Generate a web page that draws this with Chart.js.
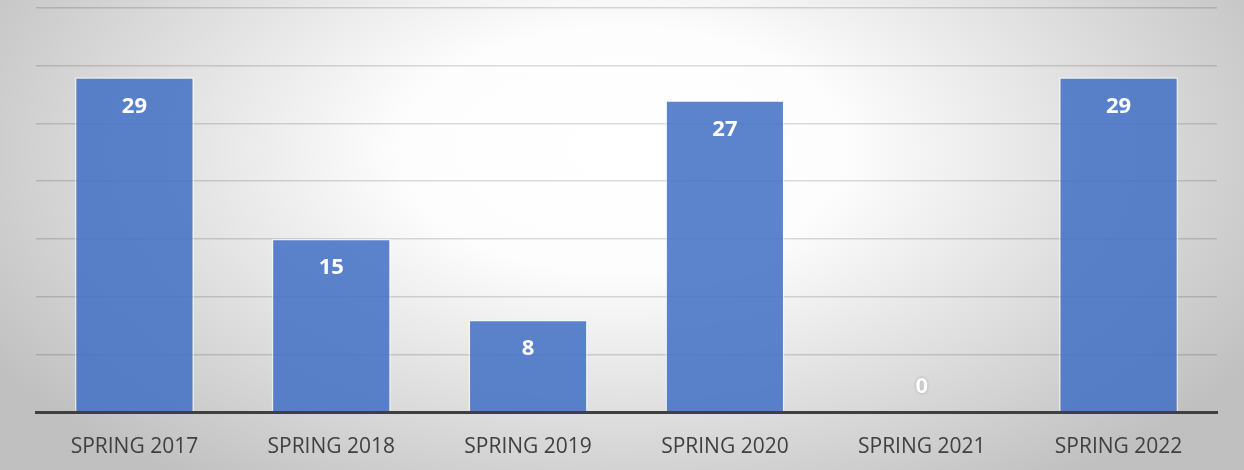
<!DOCTYPE html>
<html>
<head>
<meta charset="utf-8">
<script src="https://cdn.jsdelivr.net/npm/chart.js@4.4.1/dist/chart.umd.min.js"></script>
<style>
  html, body { margin: 0; padding: 0; background: #fff; }
  #box { width: 1244px; height: 470px; }
</style>
</head>
<body>
<div id="box"><canvas id="myChart"></canvas></div>
<script>
const categories = ["SPRING 2017", "SPRING 2018", "SPRING 2019", "SPRING 2020", "SPRING 2021", "SPRING 2022"];
const counts = [29, 15, 8, 27, 0, 29];
const yMax = 35;
const yStep = 5;

// radial grey background like the office chart style
const backgroundPlugin = {
  id: "bg",
  beforeDraw(chart) {
    const ctx = chart.ctx;
    const w = chart.width, h = chart.height;
    ctx.save();
    ctx.translate(622, 150);
    ctx.scale(1, 0.55);
    let g = ctx.createRadialGradient(0, 0, 0, 0, 0, 740);
    g.addColorStop(0, "#ffffff");
    g.addColorStop(0.3, "#fdfdfd");
    g.addColorStop(1, "#c0c0c0");
    ctx.fillStyle = g;
    ctx.fillRect(-622, -150 / 0.55, w, h / 0.55 + 10);
    ctx.restore();
  },
};

// value labels just inside the top of each bar
const valueLabels = {
  id: "valueLabels",
  afterDatasetsDraw(chart) {
    const ctx = chart.ctx;
    const meta = chart.getDatasetMeta(0);
    ctx.save();
    ctx.font = "bold 22px 'Open Sans', sans-serif";
    ctx.textAlign = "center";
    ctx.textBaseline = "middle";
    ctx.fillStyle = "#ffffff";
    meta.data.forEach(function (bar, i) {
      let v = counts[i];
      let y = v > 0 ? bar.y + 29 : bar.base - 25;
      if (v === 0) {
        ctx.shadowColor = "rgba(0,0,0,0.25)";
        ctx.shadowBlur = 3;
      } else {
        ctx.shadowBlur = 0;
      }
      ctx.fillText(String(v), bar.x, y);
    });
    ctx.restore();
  },
};

let ctx = document.getElementById("myChart");

const chart = new Chart(ctx, {
  type: "bar",
  data: {
    labels: categories,
    datasets: [
      {
        label: "Count",
        data: counts,
        backgroundColor: "rgba(68, 114, 196, 0.87)",
        borderColor: "rgba(255, 255, 255, 0.55)",
        borderWidth: 1.5,
        borderSkipped: "bottom",
        categoryPercentage: 1,
        barPercentage: 0.605,
      },
    ],
  },
  options: {
    responsive: true,
    maintainAspectRatio: false,
    animation: false,
    layout: {
      padding: { left: 36, right: 27, top: 8, bottom: 0 },
    },
    plugins: {
      legend: { display: false },
      tooltip: { enabled: false },
    },
    scales: {
      x: {
        grid: { display: false, drawTicks: false },
        border: { display: true, color: "#3f3f3f", width: 3, z: 1 },
        ticks: {
          color: "#404040",
          padding: 22,
          font: { family: "'Open Sans', sans-serif", size: 21 },
        },
        afterFit(scale) {
          scale.height = 58;
        },
      },
      y: {
        min: 0,
        max: yMax,
        ticks: { display: false, stepSize: yStep },
        border: { display: false },
        grid: { color: "rgba(0, 0, 0, 0.14)", lineWidth: 1.5, drawTicks: false },
      },
    },
  },
  plugins: [backgroundPlugin, valueLabels],
});
</script>
</body>
</html>
